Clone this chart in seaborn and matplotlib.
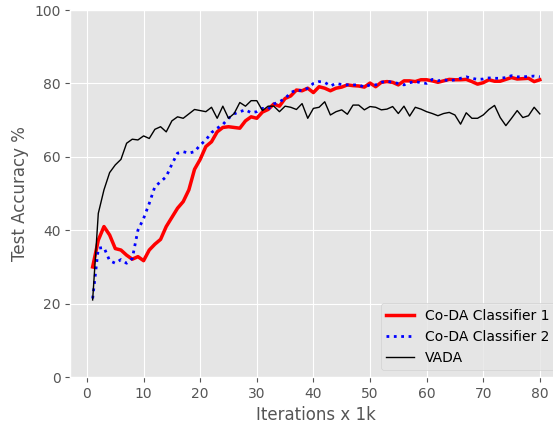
import numpy as np
import pandas as pd
import matplotlib
matplotlib.use("Agg")
import matplotlib.pyplot as plt
import seaborn as sns

iterations = list(range(1, 81))

coda_1 = [30.0, 37.3, 41.0, 38.7, 35.0, 34.6, 33.2, 32.1, 32.8, 31.7,
          34.6, 36.2, 37.5, 41.0, 43.5, 46.0, 47.8, 51.0, 56.6, 59.3,
          62.8, 64.1, 66.8, 68.0, 68.2, 68.0, 67.8, 69.8, 70.9, 70.5,
          72.2, 72.9, 74.4, 73.8, 75.9, 76.6, 78.2, 78.0, 78.7, 77.5,
          79.1, 78.7, 78.0, 78.7, 79.0, 79.6, 79.4, 79.3, 79.0, 80.1,
          79.1, 80.3, 80.5, 80.3, 79.6, 80.7, 80.7, 80.5, 81.0, 81.0,
          80.7, 80.3, 80.7, 81.1, 81.0, 81.0, 81.1, 80.5, 79.8, 80.2,
          81.0, 80.6, 80.6, 81.1, 81.6, 81.2, 81.3, 81.4, 80.5, 81.0]

coda_2 = [21.4, 35.1, 35.3, 31.7, 31.0, 32.0, 31.0, 32.3, 40.0, 43.2,
          47.3, 51.9, 53.2, 54.6, 58.0, 61.0, 61.4, 61.0, 61.4, 63.2,
          64.6, 66.6, 67.8, 68.8, 70.5, 71.7, 72.3, 72.8, 72.0, 72.3,
          73.2, 73.0, 74.4, 75.0, 75.9, 77.5, 78.2, 78.0, 78.7, 80.0,
          80.5, 80.3, 79.3, 80.0, 79.7, 79.6, 79.6, 79.6, 79.0, 79.6,
          79.6, 80.3, 80.6, 80.3, 80.0, 79.6, 80.2, 80.5, 80.2, 80.0,
          81.1, 80.7, 81.0, 80.7, 81.0, 81.4, 81.8, 81.4, 81.1, 81.2,
          81.5, 81.4, 81.4, 81.6, 82.1, 81.8, 81.8, 81.9, 82.0, 81.8]

vada = [21.0, 44.6, 51.0, 55.7, 57.8, 59.3, 63.7, 64.8, 64.6, 65.7,
        65.0, 67.5, 68.2, 66.8, 69.8, 70.9, 70.5, 71.7, 72.9, 72.6,
        72.3, 73.5, 70.5, 73.8, 70.5, 71.8, 74.8, 73.8, 75.3, 75.3,
        72.6, 73.8, 73.8, 72.3, 73.8, 73.5, 72.9, 74.5, 70.5, 73.2,
        73.5, 75.0, 71.4, 72.3, 72.8, 71.6, 74.1, 74.1, 72.8, 73.7,
        73.5, 72.8, 73.0, 73.7, 71.8, 73.8, 71.1, 73.5, 73.0, 72.3,
        71.8, 71.2, 71.8, 72.1, 71.4, 68.9, 72.0, 70.5, 70.5, 71.4,
        72.9, 74.0, 70.7, 68.5, 70.5, 72.6, 70.7, 71.2, 73.5, 71.7]

df = pd.DataFrame({"it": iterations, "c1": coda_1, "c2": coda_2, "vada": vada})

plt.style.use("ggplot")
fig = plt.figure(figsize=(5.53, 4.23), dpi=100)
ax = fig.add_axes([0.1271, 0.1087, 0.8895, 0.8676])

sns.lineplot(data=df, x="it", y="c1", ax=ax, color="red", lw=2.5, label="Co-DA Classifier 1")
sns.lineplot(data=df, x="it", y="c2", ax=ax, color="blue", lw=2, ls=":", label="Co-DA Classifier 2")
sns.lineplot(data=df, x="it", y="vada", ax=ax, color="black", lw=1, label="VADA")

ax.set_xlim(-2.95, 83.95)
ax.set_ylim(0, 100)
ax.set_xticks(range(0, 81, 10))
ax.set_xlabel("Iterations x 1k")
ax.set_ylabel("Test Accuracy %")
ax.legend(loc="lower right")

fig.savefig("out.png", dpi=100)
